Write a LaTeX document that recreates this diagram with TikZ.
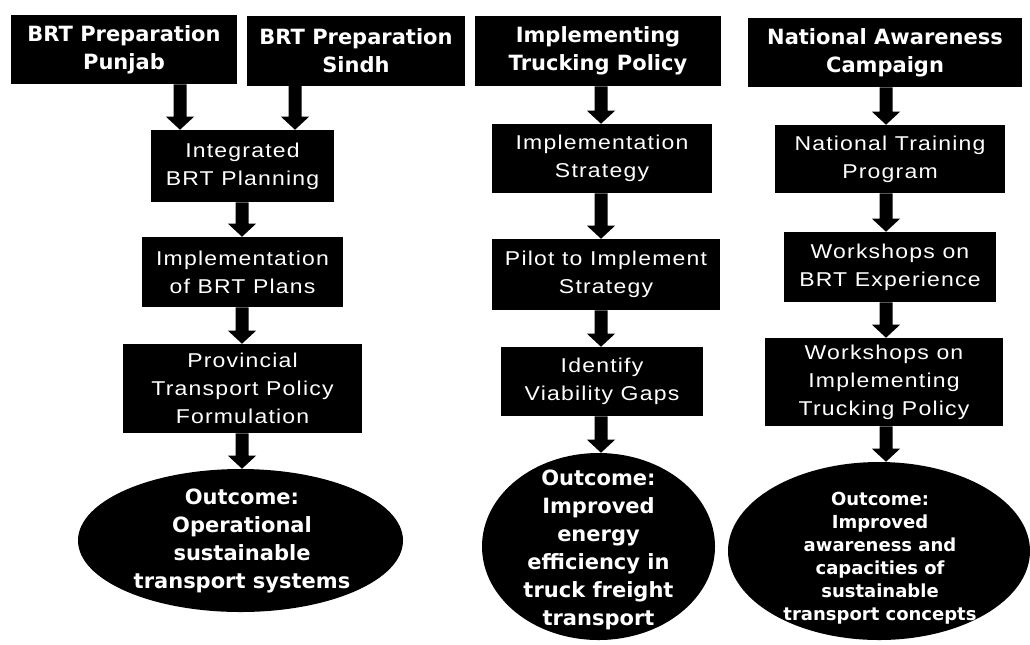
\documentclass[tikz,border=0pt]{standalone}
\usepackage{fontspec}
\usetikzlibrary{calc,shapes.geometric}
\newfontfamily\headfont{DejaVu Sans}
\newfontfamily\stepfont{Liberation Sans}[FakeStretch=1.15, LetterSpace=6]

% block arrow pointing down from #1 to #2 (same x)
\newcommand\flowarrow[2]{%
  \fill ($(#1)+(-6.5,0)$) -- ($(#1)+(6.5,0)$) -- ($(#2)+(6.5,-13)$) --
        ($(#2)+(14,-13)$) -- (#2) -- ($(#2)+(-14,-13)$) --
        ($(#2)+(-6.5,-13)$) -- cycle;}

\begin{document}
\begin{tikzpicture}[x=0.75pt,y=-0.75pt,
  size/.style 2 args={minimum width=#1*0.75pt, minimum height=#2*0.75pt},
  titlebox/.style={fill=black, text=white, inner sep=0pt, align=center,
    font=\headfont\bfseries\fontsize{15.75}{21}\selectfont},
  stepbox/.style={fill=black, text=white, inner sep=0pt, align=center,
    font=\stepfont\fontsize{15}{21}\selectfont},
  outcome/.style={ellipse, fill=black, inner sep=0pt},
  outtext/.style={text=white, inner sep=0pt, align=center,
    font=\headfont\bfseries\fontsize{15.75}{21}\selectfont},
  outtextsmall/.style={text=white, inner sep=0pt, align=center,
    font=\headfont\bfseries\fontsize{13.5}{17.25}\selectfont}]
\useasboundingbox (0,0) rectangle (1030,644);

% top row
\node[titlebox, size={226}{69}] (punjab) at (124,49.5) {BRT Preparation\\Punjab};
\node[titlebox, size={218}{70}] (sindh) at (356,50.5) {BRT Preparation\\Sindh};
\node[titlebox, size={246}{70}] (truck) at (598,51) {Implementing\\Trucking Policy};
\node[titlebox, size={274}{69}] (aware) at (885,52.5) {National Awareness\\Campaign};

% column 1
\node[stepbox, size={183}{72}] (integ) at (242.5,166) {Integrated\\BRT Planning};
\node[stepbox, size={201}{70}] (implbrt) at (242.5,272) {Implementation\\of BRT Plans};
\node[stepbox, size={239}{89}] (prov) at (242.5,388.5) {Provincial\\Transport Policy\\Formulation};
\node[outcome, size={325}{143}] (out1) at (240.5,540.5) {};
\node[outtext] at (242,541) {Outcome:\\Operational\\sustainable\\transport systems};

% column 2
\node[stepbox, size={220}{69}] (strat) at (602,158.5) {Implementation\\Strategy};
\node[stepbox, size={228}{71}] (pilot) at (606,274.5) {Pilot to Implement\\Strategy};
\node[stepbox, size={202}{69}] (gaps) at (602,381.5) {Identify\\Viability Gaps};
\node[outcome, size={233}{187}] (out2) at (598.5,546.5) {};
\node[outtext] at (598.5,550) {Outcome:\\Improved\\energy\\efficiency in\\truck freight\\transport};

% column 3
\node[stepbox, size={230}{68}] (training) at (890,159) {National Training\\Program};
\node[stepbox, size={212}{70}] (wsbrt) at (890,267) {Workshops on\\BRT Experience};
\node[stepbox, size={238}{88}] (wstruck) at (884,382) {Workshops on\\Implementing\\Trucking Policy};
\node[outcome, size={302}{178}] (out3) at (879,551) {};
\node[outtextsmall] at (880,558) {Outcome:\\Improved\\awareness and\\capacities of\\sustainable\\transport concepts};

% arrow lanes
\coordinate (la) at (180,0);
\coordinate (lb) at (295,0);
\coordinate (lc) at (242,0);
\coordinate (ld) at (601,0);
\coordinate (le) at (886,0);

\flowarrow{punjab.south -| la}{integ.north -| la}
\flowarrow{sindh.south -| lb}{integ.north -| lb}
\flowarrow{integ.south -| lc}{implbrt.north -| lc}
\flowarrow{implbrt.south -| lc}{prov.north -| lc}
\flowarrow{prov.south -| lc}{out1.north -| lc}

\flowarrow{truck.south -| ld}{strat.north -| ld}
\flowarrow{strat.south -| ld}{pilot.north -| ld}
\flowarrow{pilot.south -| ld}{gaps.north -| ld}
\flowarrow{gaps.south -| ld}{out2.north -| ld}

\flowarrow{aware.south -| le}{training.north -| le}
\flowarrow{training.south -| le}{wsbrt.north -| le}
\flowarrow{wsbrt.south -| le}{wstruck.north -| le}
\flowarrow{wstruck.south -| le}{out3.north -| le}
\end{tikzpicture}
\end{document}
